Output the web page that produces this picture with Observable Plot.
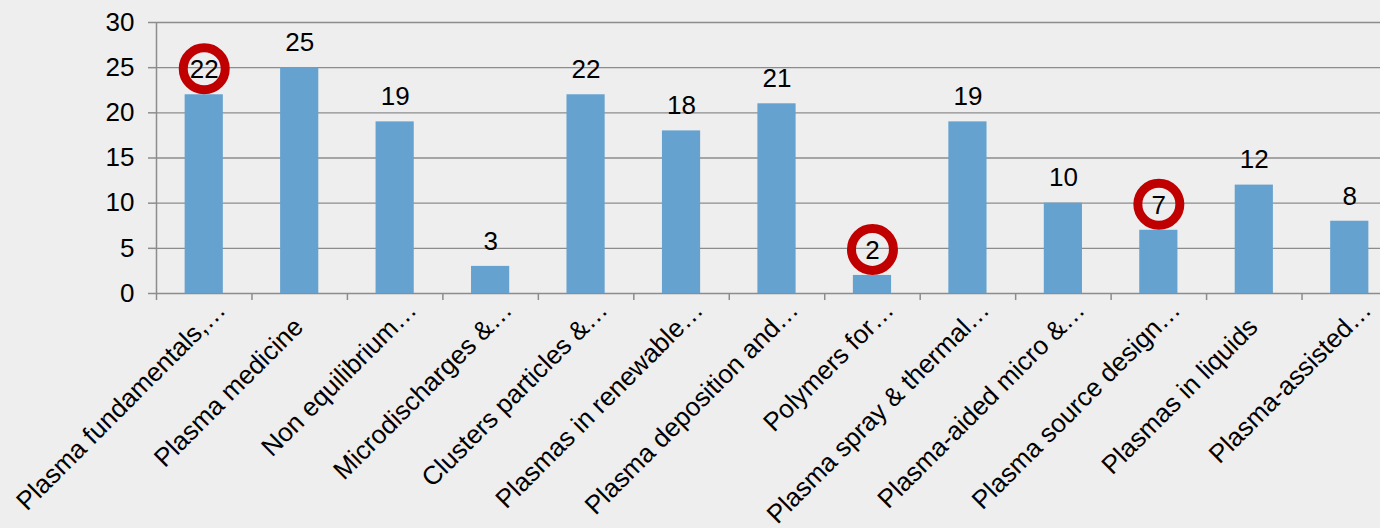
<!DOCTYPE html>
<html><head><meta charset="utf-8">
<script src="https://cdn.jsdelivr.net/npm/d3@7"></script>
<script src="https://cdn.jsdelivr.net/npm/@observablehq/plot@0.6"></script>
<style>
html,body{margin:0;padding:0;background:#eeeeee;overflow:hidden;}
#chart svg{background:#eeeeee;max-width:none !important;height:528px !important;}
</style></head><body><div id="chart"></div>
<script>
const categories = [
  "Plasma fundamentals,…", "Plasma medicine", "Non equilibrium…", "Microdischarges &…",
  "Clusters particles &…", "Plasmas in renewable…", "Plasma deposition and…", "Polymers for…",
  "Plasma spray & thermal…", "Plasma-aided micro &…", "Plasma source design…", "Plasmas in liquids",
  "Plasma-assisted…"
];
const values = [22, 25, 19, 3, 22, 18, 21, 2, 19, 10, 7, 12, 8];
const highlighted = ["Plasma fundamentals,…", "Polymers for…", "Plasma source design…"];
const yTicks = [0, 5, 10, 15, 20, 25, 30];

const data = categories.map((c, i) => ({category: c, value: values[i]}));

const W = 1397, marginLeft = 156;
const step = (W - marginLeft) / categories.length;
const font = "'Liberation Sans', Arial, sans-serif";
const gridColor = "#8c8c8c";
const isTruncated = d => d.endsWith("…");

const chart = Plot.plot({
  width: W,
  height: 528,
  marginLeft,
  marginRight: 0,
  marginTop: 22,
  marginBottom: 235,
  style: {background: "#eeeeee", fontFamily: font, fontSize: "26px", color: "#000", overflow: "visible"},
  x: {type: "band", domain: categories, paddingInner: 0.6, paddingOuter: 0.3, round: false, axis: null},
  y: {domain: [0, 30], axis: null},
  marks: [
    Plot.ruleY(yTicks, {stroke: gridColor, strokeWidth: 1.3}),
    Plot.ruleX([categories[0]], {x: d => d, y1: 0, y2: 30, dx: -step / 2, stroke: gridColor, strokeWidth: 1.5}),
    Plot.ruleX(categories, {x: d => d, y1: 0, y2: -0.78, dx: -step / 2, stroke: gridColor, strokeWidth: 1.5}),
    Plot.barY(data, {x: "category", y: "value", fill: "#66a2cf"}),
    Plot.axisY({ticks: yTicks, tickSize: 8, tickPadding: 14, stroke: gridColor, fill: "#000", fontSize: 26, label: null, strokeWidth: 1.5}),
    Plot.text(data, {x: "category", y: "value", text: d => String(d.value), dy: -25, fontSize: 26, fill: "#000"}),
    Plot.dot(data.filter(d => highlighted.includes(d.category)), {x: "category", y: "value", dy: -26, r: 21, stroke: "#c00000", strokeWidth: 9, fill: "none"}),
    Plot.text(categories.filter(isTruncated), {x: d => d, y: () => 0, text: d => d, rotate: -45, textAnchor: "end", lineAnchor: "bottom", dx: 23, dy: 18, fontSize: 26, fill: "#000"}),
    Plot.text(categories.filter(d => !isTruncated(d)), {x: d => d, y: () => 0, text: d => d, rotate: -45, textAnchor: "end", lineAnchor: "bottom", dx: 5, dy: 35, fontSize: 26, fill: "#000"})
  ]
});
document.getElementById("chart").appendChild(chart);
</script>
</body></html>
